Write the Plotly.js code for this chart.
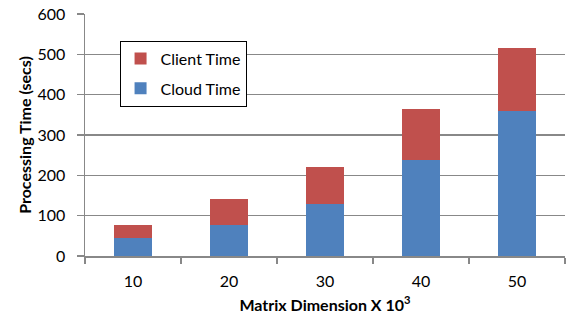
<!DOCTYPE html>
<html><head><meta charset="utf-8">
<script src="https://cdn.plot.ly/plotly-3.0.1.min.js"></script>
<style>html,body{margin:0;padding:0;background:#fff;}#c{width:566px;height:317px;}</style>
</head><body><div id="c"></div>
<script>
const categories = ["10", "20", "30", "40", "50"];
const cloudTime = [44, 78, 128, 239, 360];
const clientTime = [32, 63, 93, 126, 155];
const yTicks = [0, 100, 200, 300, 400, 500, 600];

const FONT = "Lato, 'Open Sans', sans-serif";
const traces = [
  {type: "bar", name: "Cloud Time", x: categories, y: cloudTime, marker: {color: "#4F81BD"}, legendgroup: "b", legendrank: 2},
  {type: "bar", name: "Client Time", x: categories, y: clientTime, marker: {color: "#C0504D"}, legendgroup: "a", legendrank: 1}
];
const layout = {
  width: 566, height: 317,
  margin: {l: 85, r: 1, t: 14, b: 61},
  barmode: "stack", bargap: 0.6,
  paper_bgcolor: "#fff", plot_bgcolor: "#fff",
  font: {family: FONT, size: 16, color: "#000"},
  showlegend: true,
  legend: {x: 0.072, y: 0.89, xanchor: "left", yanchor: "top", bordercolor: "#000", borderwidth: 1, bgcolor: "#fff",
    traceorder: "grouped", tracegroupgap: 6, itemwidth: 30, font: {family: FONT, size: 16}},
  xaxis: {type: "category", title: {text: "<b>Matrix Dimension X 10<sup>3</sup></b>", font: {size: 16}, standoff: 11},
    showline: true, linecolor: "#888", linewidth: 1.5, ticks: "outside", tickson: "boundaries", ticklen: 6, tickcolor: "#888", tickwidth: 1.5,
    ticklabelstandoff: 10, showgrid: false, tickfont: {size: 16}},
  yaxis: {range: [0, 600], tickvals: yTicks, title: {text: "<b>Processing Time (secs)</b>", font: {size: 16}, standoff: 2},
    showline: true, linecolor: "#888", linewidth: 1.5, ticks: "outside", ticklen: 7, tickcolor: "#888", tickwidth: 1.5,
    ticklabelstandoff: 8, showgrid: true, gridcolor: "#888", gridwidth: 1.5, zeroline: false, tickfont: {size: 16}}
};
Plotly.newPlot("c", traces, layout, {displayModeBar: false, staticPlot: true});
</script></body></html>
